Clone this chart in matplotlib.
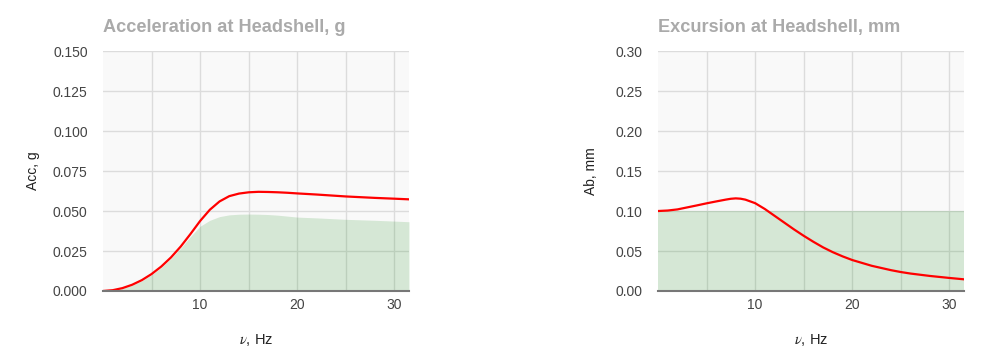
import numpy as np
import matplotlib
matplotlib.use("Agg")
import matplotlib.pyplot as plt
from matplotlib.ticker import FormatStrFormatter, MultipleLocator, FixedLocator

plt.rcParams['font.family'] = ['Liberation Sans', 'DejaVu Sans']
plt.rcParams['mathtext.fontset'] = 'stix'

# frequency grid, Hz
freq = [0, 1, 2, 3, 4, 5, 6, 7, 8, 9, 10, 11, 12, 13, 14, 15, 16, 17, 18, 19,
        20, 22, 24, 25, 26, 28, 30, 31.5]

# acceleration at headshell, g
acc = [0.0, 0.0005, 0.0018, 0.0039, 0.0068, 0.0106, 0.0153, 0.0210, 0.0278,
       0.0356, 0.0438, 0.0508, 0.0560, 0.0593, 0.0609, 0.0617, 0.0620, 0.0619,
       0.0617, 0.0614, 0.0610, 0.0603, 0.0595, 0.0591, 0.0588, 0.0582, 0.0577,
       0.0573]
acc_limit = [0.0, 0.0004, 0.0016, 0.0036, 0.0064, 0.0101, 0.0147, 0.0203, 0.0268,
             0.0340, 0.0405, 0.0442, 0.0465, 0.0476, 0.0480, 0.0481, 0.0480, 0.0478,
             0.0474, 0.0468, 0.0462, 0.0457, 0.0451, 0.0448, 0.0446, 0.0442, 0.0437,
             0.0433]

# excursion at headshell, mm
freq_exc = [0, 1, 2, 3, 4, 5, 6, 7, 7.5, 8, 8.5, 9, 10, 11, 12, 13, 14, 15, 16,
            17, 18, 19, 20, 22, 24, 25, 26, 28, 30, 31.5]
exc = [0.100, 0.1006, 0.1020, 0.1045, 0.1070, 0.1096, 0.1120, 0.1143, 0.1153,
       0.1158, 0.1154, 0.1142, 0.1098, 0.1025, 0.0940, 0.0855, 0.0770, 0.0690,
       0.0615, 0.0545, 0.0485, 0.0433, 0.0387, 0.0315, 0.0260, 0.0237, 0.0218,
       0.0188, 0.0163, 0.0146]
exc_limit = [0.10] * len(freq_exc)

fig = plt.figure(figsize=(10, 3.56), dpi=100)
ax1 = fig.add_axes([0.103, 0.1826, 0.306, 0.674])
ax2 = fig.add_axes([0.658, 0.1826, 0.306, 0.674])


def style(ax, title, ylabel, ymax, ystep, fmt, ylab_x):
    ax.set_facecolor('#f9f9f9')
    ax.set_axisbelow(True)
    ax.set_xlim(0, 31.5)
    ax.set_ylim(0, ymax)
    ax.xaxis.set_major_locator(FixedLocator([10, 20, 30]))
    ax.xaxis.set_minor_locator(FixedLocator([5, 15, 25]))
    ax.yaxis.set_major_locator(MultipleLocator(ystep))
    ax.yaxis.set_major_formatter(FormatStrFormatter(fmt))
    ax.grid(True, which='both', color='#dcdcdc', linewidth=1)
    ax.tick_params(which='both', length=0)
    ax.tick_params(axis='y', pad=11, labelsize=10, labelcolor='#444444')
    ax.tick_params(axis='x', pad=5, labelsize=10, labelcolor='#444444')
    for s in ['top', 'right', 'left']:
        ax.spines[s].set_visible(False)
    ax.spines['bottom'].set_color('#777777')
    ax.spines['bottom'].set_linewidth(1.5)
    ax.set_title(title, loc='left', pad=14, fontsize=13.1, fontweight='bold',
                 color='#aaaaaa')
    ax.set_ylabel(ylabel, fontsize=10, color='#222222')
    ax.yaxis.set_label_coords(ylab_x, 0.5)
    ax.set_xlabel(r'$\nu$, Hz', fontsize=10.5, color='#222222')
    ax.xaxis.set_label_coords(0.5, -0.17)


ax1.fill_between(freq, acc_limit, color='green', alpha=0.14, linewidth=0)
ax1.plot(freq, acc, color='red', linewidth=1.6)
style(ax1, 'Acceleration at Headshell, g', 'Acc, g', 0.15, 0.025, '%.3f', -0.206)

ax2.fill_between(freq_exc, exc_limit, color='green', alpha=0.14, linewidth=0)
ax2.plot(freq_exc, exc, color='red', linewidth=1.6)
style(ax2, 'Excursion at Headshell, mm', 'Ab, mm', 0.30, 0.05, '%.2f', -0.196)

fig.savefig('out.png', dpi=100)
